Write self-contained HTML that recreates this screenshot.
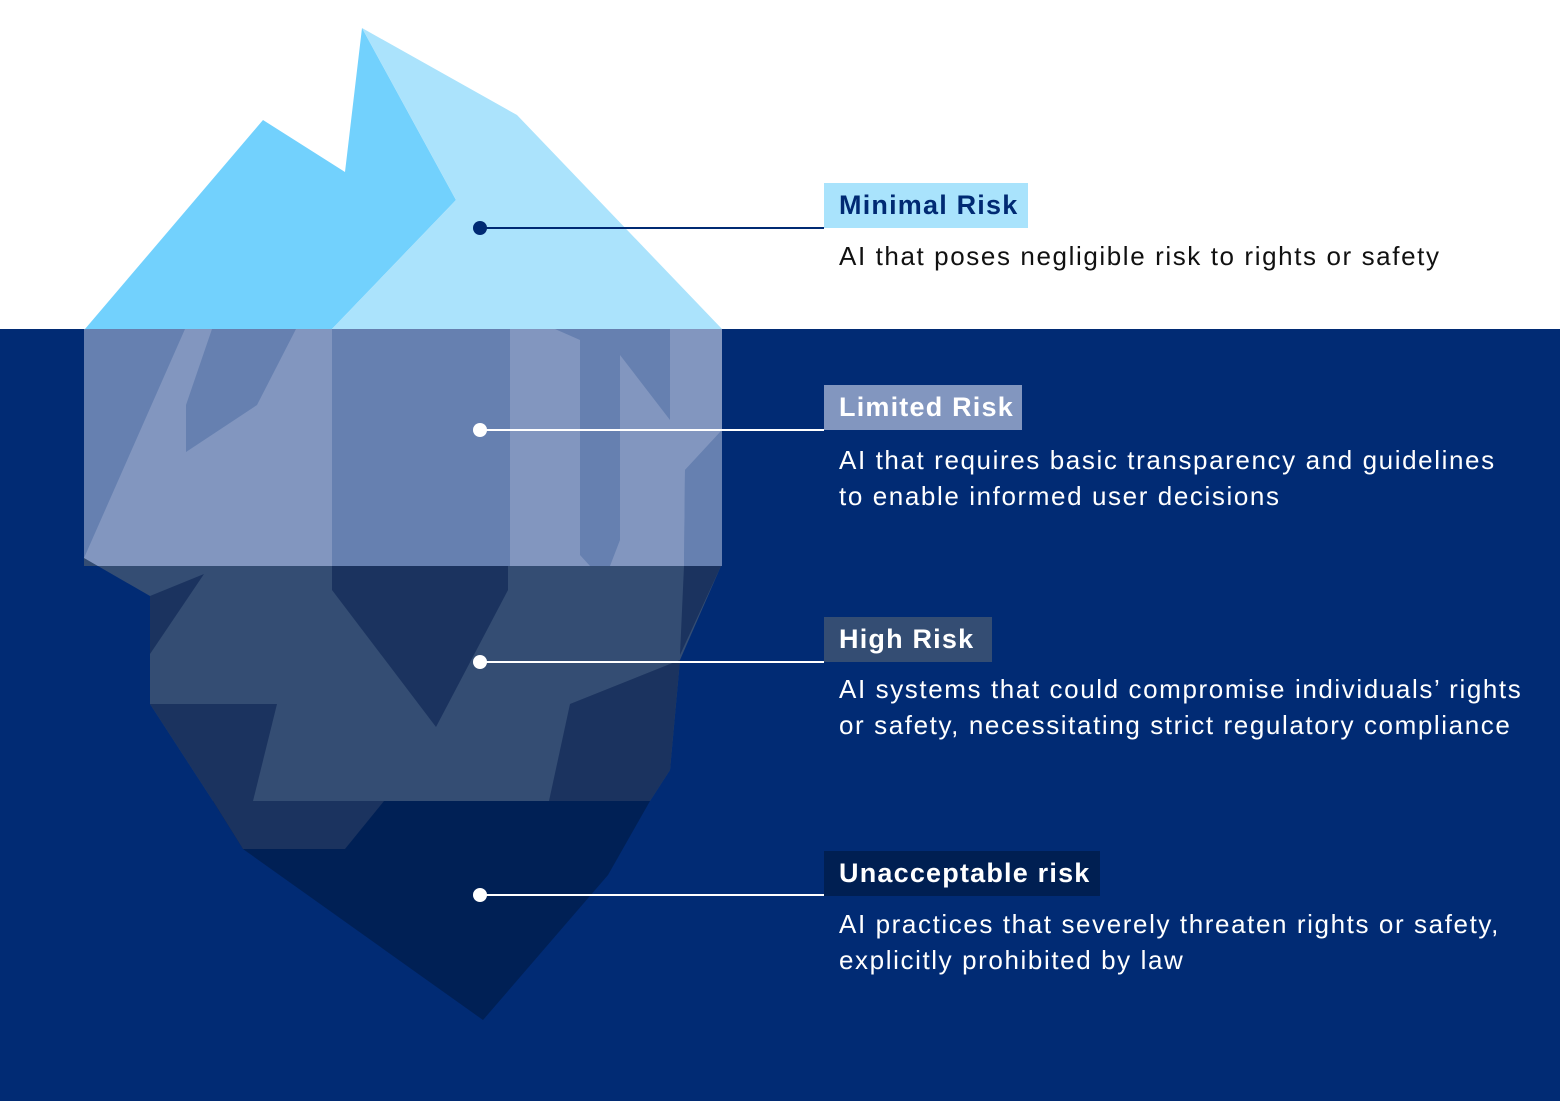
<!DOCTYPE html>
<html><head><meta charset="utf-8"><style>
html,body{margin:0;padding:0;width:1560px;height:1101px;overflow:hidden;background:#fff;font-family:"Liberation Sans","DejaVu Sans",sans-serif}
.lab{position:absolute;left:824px;height:45px;line-height:45px;padding:0 0 0 15px;font-weight:bold;font-size:27px;color:#fff;box-sizing:border-box;letter-spacing:1.2px}
.desc{position:absolute;left:839px;font-size:26px;line-height:36px;color:#fff;white-space:nowrap;letter-spacing:1.6px}
</style></head><body>
<svg width="1560" height="1101" style="position:absolute;left:0;top:0">
<rect x="0" y="329" width="1560" height="772" fill="#012b74"/>
<polygon points="85,329 263,120 345,172 362,28 456,200 332,329" fill="#72d1fd"/>
<polygon points="362,28 517,115 722,329 332,329 456,200" fill="#abe3fc"/>
<rect x="84" y="329" width="638" height="237" fill="#6680b0"/>
<polygon points="84,558 185,329 212,329 186,405 186,452 257,405 296,329 332,329 332,566 84,566" fill="#8296bf"/>
<polygon points="510,329 555,329 580,340 580,555 590,566 510,566" fill="#8296bf"/>
<polygon points="620,355 670,420 670,329 722,329 722,430 685,470 684,566 610,566 620,540" fill="#8296bf"/>
<polygon points="685,470 722,430 722,566 684,566" fill="#6680b0"/>
<polygon points="84,558 84,566 721,566 680,660 670,770 650,801 213,801 150,704 150,596" fill="#344d73"/>
<polygon points="150,596 204,574 150,654" fill="#1b335f"/>
<polygon points="332,566 508,566 508,590 436,727 332,590" fill="#1b335f"/>
<polygon points="150,704 277,704 253,801 213,801" fill="#1b335f"/>
<polygon points="570,704 680,660 670,770 650,801 549,801" fill="#1b335f"/>
<polygon points="684,566 721,566 680,655" fill="#1b335f"/>
<polygon points="213,801 650,801 608,875 483,1020 243,849" fill="#002055"/>
<polygon points="213,801 384,801 345,849 243,849" fill="#1b335f"/>
<line x1="480" y1="228" x2="824" y2="228" stroke="#002a73" stroke-width="2"/>
<circle cx="480" cy="228" r="7" fill="#002a73"/>
<line x1="480" y1="430" x2="824" y2="430" stroke="#fff" stroke-width="2"/>
<circle cx="480" cy="430" r="7" fill="#fff"/>
<line x1="480" y1="662" x2="824" y2="662" stroke="#fff" stroke-width="2"/>
<circle cx="480" cy="662" r="7" fill="#fff"/>
<line x1="480" y1="895" x2="824" y2="895" stroke="#fff" stroke-width="2"/>
<circle cx="480" cy="895" r="7" fill="#fff"/>
</svg>
<div class="lab" style="top:183px;width:204px;background:#a9e3fc;color:#002a73">Minimal Risk</div>
<div class="desc" style="top:238px;color:#111">AI that poses negligible risk to rights or safety</div>
<div class="lab" style="top:385px;width:198px;background:#8296bf">Limited Risk</div>
<div class="desc" style="top:442px">AI that requires basic transparency and guidelines<br>to enable informed user decisions</div>
<div class="lab" style="top:617px;width:168px;background:#344d73">High Risk</div>
<div class="desc" style="top:671px">AI systems that could compromise individuals’ rights<br>or safety, necessitating strict regulatory compliance</div>
<div class="lab" style="top:851px;width:276px;background:#001f52">Unacceptable risk</div>
<div class="desc" style="top:906px">AI practices that severely threaten rights or safety,<br>explicitly prohibited by law</div>
</body></html>
